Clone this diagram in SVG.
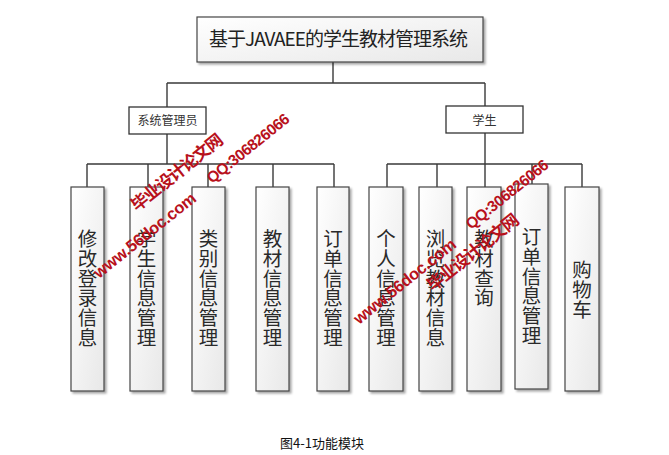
<svg xmlns="http://www.w3.org/2000/svg" width="669" height="455" viewBox="0 0 669 455">
<style>
.conn{fill:none;stroke:#3a3a3a;stroke-width:1.4}
.box{fill:url(#g);stroke:#454545;stroke-width:1.2;filter:url(#sh)}
.sub{fill:#fff;stroke:#333;stroke-width:1.3}
.leaf{font-family:"Noto Sans CJK SC",sans-serif;font-size:19.5px;fill:#2a2a2a;text-anchor:middle}
.subt{font-family:"Noto Sans CJK SC",sans-serif;font-size:12px;fill:#333;text-anchor:middle}
.wm{font-family:"Liberation Sans","Noto Sans CJK SC",sans-serif;font-weight:bold;fill:#b8111b}
</style>
<defs>
<linearGradient id="g" x1="0" y1="0" x2="1" y2="1">
<stop offset="0" stop-color="#ffffff"/>
<stop offset="1" stop-color="#e8e8e8"/>
</linearGradient>
<filter id="sh" x="-20%" y="-20%" width="150%" height="150%">
<feDropShadow dx="2" dy="2" stdDeviation="1.3" flood-color="#000" flood-opacity="0.35"/>
</filter>
</defs>
<rect width="669" height="455" fill="#fff"/>
<g id="connectors">
<path class="conn" d="M333 62V83M167 83H485M167 83V107M485 83V106"/>
<path class="conn" d="M167 134V164M87 164H334M87 164V187M148 164V187M208 164V187M273 164V187M334 164V187"/>
<path class="conn" d="M485 133V164M387 164H582M387 164V187M437 164V187M485 164V187M532 164V184M582 164V187"/>
</g>
<g id="root">
<rect class="box" x="197" y="17" width="286" height="45"/>
<text x="338.5" y="46" textLength="259" style="font-family:'Noto Sans CJK SC',sans-serif;font-size:19px;fill:#222;text-anchor:middle">基于JAVAEE的学生教材管理系统</text>
</g>
<g id="admin">
<rect class="sub" x="129" y="107" width="77" height="27"/>
<text class="subt" x="167.5" y="124.5">系统管理员</text>
</g>
<g id="student">
<rect class="sub" x="446" y="106" width="77" height="27"/>
<text class="subt" x="484.5" y="124.5">学生</text>
</g>
<g id="l1"><rect class="box" x="71" y="187" width="33" height="204"/>
<text class="leaf"><tspan x="87.5" y="246.2">修</tspan><tspan x="87.5" y="265.9">改</tspan><tspan x="87.5" y="285.6">登</tspan><tspan x="87.5" y="305.3">录</tspan><tspan x="87.5" y="325">信</tspan><tspan x="87.5" y="344.7">息</tspan></text></g>
<g id="l2"><rect class="box" x="130" y="187" width="33" height="204"/>
<text class="leaf"><tspan x="146.5" y="246.2">学</tspan><tspan x="146.5" y="265.9">生</tspan><tspan x="146.5" y="285.6">信</tspan><tspan x="146.5" y="305.3">息</tspan><tspan x="146.5" y="325">管</tspan><tspan x="146.5" y="344.7">理</tspan></text></g>
<g id="l3"><rect class="box" x="192" y="187" width="33" height="204"/>
<text class="leaf"><tspan x="208.5" y="246.2">类</tspan><tspan x="208.5" y="265.9">别</tspan><tspan x="208.5" y="285.6">信</tspan><tspan x="208.5" y="305.3">息</tspan><tspan x="208.5" y="325">管</tspan><tspan x="208.5" y="344.7">理</tspan></text></g>
<g id="l4"><rect class="box" x="256" y="187" width="33" height="204"/>
<text class="leaf"><tspan x="272.5" y="246.2">教</tspan><tspan x="272.5" y="265.9">材</tspan><tspan x="272.5" y="285.6">信</tspan><tspan x="272.5" y="305.3">息</tspan><tspan x="272.5" y="325">管</tspan><tspan x="272.5" y="344.7">理</tspan></text></g>
<g id="l5"><rect class="box" x="317" y="187" width="32" height="204"/>
<text class="leaf"><tspan x="333" y="246.2">订</tspan><tspan x="333" y="265.9">单</tspan><tspan x="333" y="285.6">信</tspan><tspan x="333" y="305.3">息</tspan><tspan x="333" y="325">管</tspan><tspan x="333" y="344.7">理</tspan></text></g>
<g id="r1"><rect class="box" x="369" y="187" width="34" height="204"/>
<text class="leaf"><tspan x="386" y="246.2">个</tspan><tspan x="386" y="265.9">人</tspan><tspan x="386" y="285.6">信</tspan><tspan x="386" y="305.3">息</tspan><tspan x="386" y="325">管</tspan><tspan x="386" y="344.7">理</tspan></text></g>
<g id="r2"><rect class="box" x="419" y="187" width="33" height="204"/>
<text class="leaf"><tspan x="435.5" y="246.2">浏</tspan><tspan x="435.5" y="265.9">览</tspan><tspan x="435.5" y="285.6">教</tspan><tspan x="435.5" y="305.3">材</tspan><tspan x="435.5" y="325">信</tspan><tspan x="435.5" y="344.7">息</tspan></text></g>
<g id="r3"><rect class="box" x="467" y="187" width="34" height="204"/>
<text class="leaf"><tspan x="484" y="246.2">教</tspan><tspan x="484" y="265.9">材</tspan><tspan x="484" y="285.6">查</tspan><tspan x="484" y="305.3">询</tspan></text></g>
<g id="r4"><rect class="box" x="515" y="184" width="33" height="205"/>
<text class="leaf"><tspan x="531.5" y="244.2">订</tspan><tspan x="531.5" y="263.9">单</tspan><tspan x="531.5" y="283.6">信</tspan><tspan x="531.5" y="303.3">息</tspan><tspan x="531.5" y="323">管</tspan><tspan x="531.5" y="342.7">理</tspan></text></g>
<g id="r5"><rect class="box" x="565" y="187" width="34" height="204"/>
<text class="leaf"><tspan x="582" y="277.2">购</tspan><tspan x="582" y="296.9">物</tspan><tspan x="582" y="316.6">车</tspan></text></g>
<text x="322" y="448" style="font-family:'Noto Sans CJK SC',sans-serif;font-size:13px;fill:#111;text-anchor:middle">图4-1功能模块</text>
<g id="watermarks">
<text class="wm" x="137" y="212" font-size="17" textLength="112" transform="rotate(-38.7 137 212)">毕业设计论文网</text>
<text class="wm" x="99" y="279" font-size="16.5" textLength="126" transform="rotate(-38.7 99 279)">www.56doc.com</text>
<text class="wm" x="212" y="184" font-size="15.5" textLength="101" transform="rotate(-38.7 212 184)">QQ:306826066</text>
<text class="wm" x="359" y="325" font-size="16.5" textLength="126" transform="rotate(-38.7 359 325)">www.56doc.com</text>
<text class="wm" x="433" y="292" font-size="17" textLength="112" transform="rotate(-38.7 433 292)">毕业设计论文网</text>
<text class="wm" x="471" y="230" font-size="15.5" textLength="101" transform="rotate(-38.7 471 230)">QQ:306826066</text>
</g>
</svg>
